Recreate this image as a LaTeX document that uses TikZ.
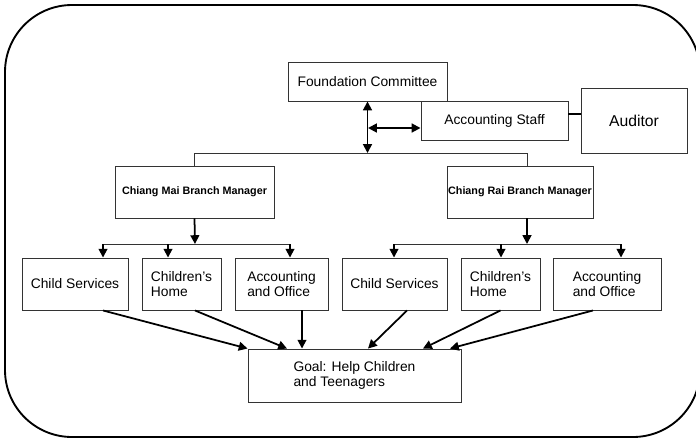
\documentclass[tikz,border=0pt]{standalone}
\usepackage{fontspec}
\setmainfont{Liberation Sans}
\usetikzlibrary{arrows.meta,calc}
\tikzset{
  boxsize/.style 2 args={minimum width=#1*0.03cm, minimum height=#2*0.03cm},
  orgbox/.style={draw=black!80, line width=0.8pt, fill=white, inner sep=2pt, align=left, font=\fontsize{11.8}{12.8}\selectfont},
  mgrbox/.style={orgbox, inner xsep=0pt, font=\fontsize{9.2}{11}\selectfont\bfseries},
  arr/.style={line width=1.5pt, -{Triangle[length=7.5pt,width=7.5pt]}},
  dblarr/.style={line width=1.6pt, {Triangle[length=7.5pt,width=7.5pt]}-{Triangle[length=7.5pt,width=7.5pt]}},
  bus/.style={line width=0.8pt, draw=black!80},
}

\begin{document}
\begin{tikzpicture}[x=0.03cm, y=-0.03cm]
		%%%%% START %%%%%
		\useasboundingbox (0,0) rectangle (696,438);
		\clip (0,0) rectangle (696,438);
		\draw[line width=1.6pt, rounded corners=2.01cm] (5,5) rectangle (700,437);
		
		\node[orgbox, boxsize={159}{39}] (found) at (367.5,81.5) {Foundation Committee};
		\node[orgbox, boxsize={147}{39}] (staff) at (494.5,120.5) {Accounting Staff};
		\node[orgbox, boxsize={106}{65}, font=\fontsize{13.4}{15}\selectfont] (auditor) at (634,120.5) {Auditor};
		
		\node[mgrbox, boxsize={159}{52}] (maimgr) at (194.5,192) {Chiang Mai Branch Manager};
		\node[mgrbox, boxsize={146}{52}] (raimgr) at (520,192) {Chiang Rai Branch Manager};
		
		\node[orgbox, boxsize={106}{52}] (maichild) at (75,284) {Child Services};
		\node[orgbox, boxsize={79}{52}] (maihome) at (181.5,284) {Children's\\Home};
		\node[orgbox, boxsize={93}{52}] (maioffice) at (281.5,284) {Accounting\\and Office};
		\node[orgbox, boxsize={105}{52}] (raichild) at (394.5,284) {Child Services};
		\node[orgbox, boxsize={79}{52}] (raihome) at (500.5,284) {Children's\\Home};
		\node[orgbox, boxsize={108}{52}] (raioffice) at (607,284) {Accounting\\and Office};
		
		\node[orgbox, boxsize={213}{53}] (goal) at (354.5,375.5) {Goal: Help Children\\and Teenagers};
		
		% top part
		\coordinate (busR) at (527,153);
		\coordinate (split) at (368,128);
		\draw[bus] (maimgr.north) |- (busR) -- (busR |- raimgr.north);
		\draw[dblarr] (found.south) -- (found.south |- busR);
		\draw[dblarr] (split) -- (staff.west |- split);
		\draw[line width=1.2pt] (staff.east |- 0,114) -- (auditor.west |- 0,114);
		
		% branches
		\coordinate (maibar) at (195,244);
		\coordinate (raibar) at (527,244);
		\draw[arr] (maimgr.south) -- (maibar);
		\draw[arr] (raimgr.south -| raibar) -- (raibar);
		\draw[bus] (103,244) -- (290,244);
		\draw[bus] (394,244) -- (621,244);
		\foreach \x/\n in {103/maichild,168/maihome,290/maioffice,394/raichild,501/raihome,621/raioffice}
			\draw[arr] (\x,244) -- (\x,244 |- \n.north);
		
		% to the goal
		\draw[arr] ($(maichild.south)+(28,0)$) -- (goal.north west);
		\draw[arr] ($(maihome.south)+(13.5,0)$) -- ($(goal.north)+(-67.5,0)$);
		\draw[arr] ($(maioffice.south)+(20.5,0)$) -- ($(goal.north)+(-52.5,0)$);
		\draw[arr] ($(raichild.south)+(12.5,0)$) -- ($(goal.north)+(13.5,0)$);
		\draw[arr] (raihome.south) -- ($(goal.north)+(68.5,0)$);
		\draw[arr] ($(raioffice.south)+(-14,0)$) -- ($(goal.north)+(95.5,0)$);
		%%%%% END %%%%%
	\end{tikzpicture}
\end{document}
